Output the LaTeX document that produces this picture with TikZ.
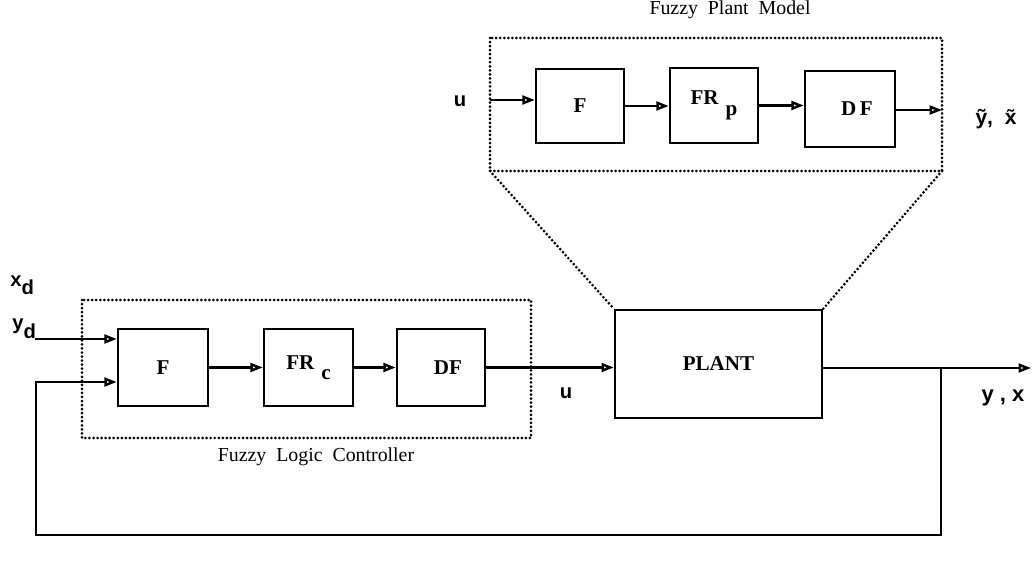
\documentclass[tikz,border=0pt]{standalone}
\usepackage{fontspec}
\setmainfont{Liberation Serif}
\newfontfamily\lsans{Liberation Sans}
\usetikzlibrary{arrows.meta}
\tikzset{
  x=0.02cm, y=-0.02cm,
  blk/.style={draw, line width=1.4pt, inner sep=0pt, font=\bfseries\fontsize{12}{13}\selectfont},
  arr/.style={line width=1.4pt, -{Triangle[open,length=7pt,width=5pt]}},
  dotbox/.style={line width=1.7pt, dash pattern=on 0pt off 2.3pt, line cap=round},
  var/.style={inner sep=0pt, font=\lsans\bfseries\fontsize{11.5}{13}\selectfont},
  ttl/.style={inner sep=0pt, font=\fontsize{11.3}{13}\selectfont}
}
\begin{document}
\begin{tikzpicture}
\useasboundingbox (0,0) rectangle (1034,567);
% controller blocks
\node[blk, minimum width=1.80cm, minimum height=1.54cm] (cF) at (163,367.5) {F};
\node[blk, minimum width=1.78cm, minimum height=1.54cm] (cFR) at (308.5,367.5) {FR\hspace{4pt}\raisebox{-5.5pt}{c}};
\node[blk, minimum width=1.76cm, minimum height=1.54cm] (cDF) at (441,367.5) {\hspace{8pt}DF};
% plant
\node[blk, minimum width=4.14cm, minimum height=2.16cm] (plant) at (718.5,364) {PLANT};
% model blocks
\node[blk, minimum width=1.76cm, minimum height=1.48cm] (mF) at (580,106) {F};
\node[blk, minimum width=1.76cm, minimum height=1.50cm] (mFR) at (714,105.5) {FR\hspace{4pt}\raisebox{-6pt}{p}};
\node[blk, minimum width=1.80cm, minimum height=1.52cm] (mDF) at (850,109) {\hspace{8pt}D\,F};
% dotted enclosures
\coordinate (ctl) at (82,300);
\coordinate (cbr) at (531,438);
\coordinate (mtl) at (490,38);
\coordinate (mbr) at (942,171);
\coordinate (mbl) at (490,171);
\draw[dotbox] (ctl) rectangle (cbr);
\draw[dotbox] (mtl) rectangle (mbr);
\draw[dotbox] (mbl) -- (plant.north west);
\draw[dotbox] (mbr) -- (plant.north east);
% controller wiring
\coordinate (ydin) at (35,339);
\coordinate (fbin) at (36,382);
\coordinate (fbbl) at (36,535);
\coordinate (fbbr) at (941,535);
\coordinate (tap) at (941,368);
\coordinate (yout) at (1031,368);
\draw[arr] (ydin) -- (ydin -| cF.west);
\draw[arr] (tap) -- (fbbr) -- (fbbl) -- (fbin) -- (fbin -| cF.west);
\draw[arr] (cF.east) -- (cFR.west);
\draw[arr] (cFR.east) -- (cDF.west);
\draw[arr] (cDF.east) -- (cDF.east -| plant.west);
\draw[arr] (plant.east |- yout) -- (yout);
% model wiring
\coordinate (min) at (490,100);
\coordinate (mout) at (942,110);
\draw[arr] (min) -- (min -| mF.west);
\draw[arr] (mF.east) -- (mF.east -| mFR.west);
\draw[arr] (mFR.east) -- (mFR.east -| mDF.west);
\draw[arr] (mDF.east |- mout) -- (mout);
% labels
\node[var, anchor=south west] (lxd) at (10,295) {x\raisebox{-4.5pt}{d}};
\node[var, anchor=south west] (lyd) at (12,339) {y\raisebox{-5pt}{d}};
\node[var] (lu1) at (566,393) {u};
\node[var, font=\lsans\bfseries\fontsize{12.5}{14}\selectfont] (lyx) at (1003,398) {y , x};
\node[var] (lu2) at (460,101) {u};
\node[var, font=\lsans\bfseries\fontsize{12}{14}\selectfont] (lyxt) at (996,119) {\~{y}, \ \~{x}};
\node[ttl] (tm) at (730,10) {Fuzzy\ \ Plant\ \ Model};
\node[ttl] (tc) at (316,457) {Fuzzy\ \ Logic\ \ Controller};
\end{tikzpicture}
\end{document}
